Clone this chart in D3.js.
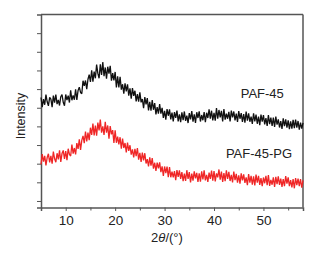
<!DOCTYPE html>
<html>
<head>
<meta charset="utf-8">
<script src="https://cdn.jsdelivr.net/npm/d3@7"></script>
<style>
  body { margin: 0; background: #fff; }
  svg { display: block; font-family: "Liberation Sans", Arial, sans-serif; }
</style>
</head>
<body>
<div id="chart"></div>
<script>
// XRD patterns, intensities (a.u., 0.25 deg steps from 5 to 58)
const angleStart = 5;
const angleStep = 0.25;

const paf45 = [
  5.55, 5.03, 5.46, 5.16, 5.71, 5.32, 5.10, 5.56,
  5.46, 5.03, 5.65, 5.27, 5.71, 5.19, 5.42, 5.12,
  5.59, 5.71, 5.29, 5.11, 5.71, 5.41, 5.65, 5.28,
  5.94, 5.40, 5.66, 5.43, 5.99, 5.42, 5.93, 6.10,
  5.82, 5.75, 6.45, 6.18, 6.46, 5.99, 6.53, 6.77,
  6.38, 7.01, 6.40, 6.94, 6.58, 7.31, 6.84, 6.58,
  7.33, 6.76, 7.45, 6.69, 7.16, 6.56, 7.20, 6.83,
  7.25, 6.45, 6.86, 6.46, 6.92, 6.09, 6.68, 6.09,
  6.66, 5.97, 6.26, 5.76, 6.31, 5.88, 6.26, 5.65,
  6.04, 5.48, 6.05, 5.64, 5.91, 5.34, 5.73, 5.33,
  5.82, 5.29, 5.47, 4.98, 5.57, 5.18, 5.52, 4.86,
  5.32, 4.84, 5.41, 4.89, 5.25, 4.64, 5.03, 4.68,
  5.19, 4.68, 4.99, 4.45, 4.83, 4.36, 4.93, 4.57,
  4.91, 4.38, 4.74, 4.27, 4.76, 4.46, 4.85, 4.27,
  4.65, 4.23, 4.75, 4.34, 4.80, 4.29, 4.58, 4.18,
  4.71, 4.37, 4.82, 4.25, 4.65, 4.19, 4.76, 4.45,
  4.81, 4.26, 4.61, 4.33, 4.77, 4.22, 4.73, 4.45,
  4.92, 4.42, 4.84, 4.32, 4.72, 4.31, 4.98, 4.41,
  4.88, 4.48, 4.83, 4.27, 4.93, 4.36, 4.68, 4.41,
  4.78, 4.26, 4.85, 4.48, 4.80, 4.32, 4.68, 4.24,
  4.82, 4.41, 4.71, 4.24, 4.66, 4.20, 4.79, 4.31,
  4.70, 4.25, 4.52, 4.13, 4.70, 4.27, 4.63, 4.14,
  4.53, 4.06, 4.63, 4.26, 4.60, 4.11, 4.44, 4.03,
  4.61, 4.12, 4.47, 4.02, 4.47, 3.97, 4.52, 4.09,
  4.38, 3.94, 4.28, 3.87, 4.43, 4.01, 4.38, 3.93,
  4.32, 3.85, 4.27, 3.88, 4.35, 3.91, 4.37, 3.93,
  4.29, 3.82, 4.20, 3.88, 4.19
];

const paf45pg = [
  1.96, 2.51, 2.11, 2.42, 1.91, 2.33, 2.53, 2.07,
  2.42, 2.00, 2.65, 2.26, 2.08, 2.56, 2.23, 2.71,
  2.10, 2.54, 2.71, 2.25, 2.68, 2.19, 2.80, 2.50,
  2.41, 3.03, 2.54, 2.84, 2.50, 3.10, 2.79, 3.31,
  2.74, 3.25, 3.49, 3.10, 3.72, 3.19, 3.67, 3.26,
  3.93, 3.54, 4.15, 3.52, 4.04, 3.50, 4.20, 3.79,
  4.36, 3.66, 4.00, 3.54, 4.25, 3.66, 4.05, 3.34,
  4.02, 3.57, 3.80, 3.11, 3.79, 3.12, 3.45, 3.03,
  3.42, 2.80, 3.34, 2.84, 3.11, 2.61, 3.13, 2.69,
  2.99, 2.48, 2.77, 2.33, 2.80, 2.41, 2.84, 2.22,
  2.58, 2.09, 2.59, 2.18, 2.56, 2.01, 2.24, 1.85,
  2.34, 1.89, 2.30, 1.73, 2.05, 1.61, 2.06, 1.75,
  2.07, 1.55, 1.86, 1.34, 1.85, 1.49, 1.84, 1.28,
  1.82, 1.27, 1.58, 1.27, 1.60, 1.11, 1.66, 1.29,
  1.64, 1.19, 1.55, 1.06, 1.47, 1.08, 1.65, 1.19,
  1.55, 0.99, 1.47, 1.09, 1.59, 1.21, 1.51, 1.02,
  1.48, 1.04, 1.59, 1.16, 1.64, 1.10, 1.40, 1.02,
  1.52, 1.19, 1.63, 1.09, 1.60, 1.05, 1.48, 1.27,
  1.69, 1.14, 1.57, 1.02, 1.49, 1.06, 1.64, 1.18,
  1.56, 1.07, 1.40, 0.99, 1.58, 1.12, 1.45, 0.98,
  1.38, 0.93, 1.48, 1.10, 1.43, 0.97, 1.26, 0.85,
  1.44, 0.98, 1.35, 0.87, 1.32, 0.84, 1.41, 0.98,
  1.35, 0.86, 1.23, 0.80, 1.26, 0.95, 1.35, 0.85,
  1.39, 0.81, 1.13, 0.87, 1.27, 0.76, 1.29, 0.90,
  1.32, 0.86, 1.20, 0.76, 1.17, 0.79, 1.33, 0.93,
  1.27, 0.80, 1.12, 0.73, 1.18, 0.68, 1.23, 0.85,
  1.20, 0.80, 1.17, 0.71, 1.11
];

const xMajorTicks = [10, 20, 30, 40, 50];
const xMinorTicks = [15, 25, 35, 45, 55];
const yTicks = [0, 1, 2, 3, 4, 5, 6, 7, 8, 9];

const width = 316;
const height = 255;
const margin = { top: 14.5, right: 13, bottom: 47.5, left: 41 };
const innerW = width - margin.left - margin.right;
const innerH = height - margin.top - margin.bottom;

const svg = d3.select("#chart")
  .append("svg")
  .attr("width", width)
  .attr("height", height);

const g = svg.append("g")
  .attr("transform", `translate(${margin.left},${margin.top})`);

const x = d3.scaleLinear().domain([5, 58]).range([0, innerW]);
const y = d3.scaleLinear().domain([-0.35, 10]).range([innerH, 0]);

const frameColor = "#555";

// axes
const xAxis = g.append("g")
  .attr("transform", `translate(0,${innerH})`)
  .call(d3.axisBottom(x).tickValues(xMajorTicks).tickSize(3.5).tickPadding(4));

g.append("g")
  .attr("transform", `translate(0,${innerH})`)
  .call(d3.axisBottom(x).tickValues(xMinorTicks).tickSize(3).tickFormat(""))
  .call(a => a.select(".domain").remove());

const yAxis = g.append("g")
  .call(d3.axisLeft(y).tickValues(yTicks).tickSize(4).tickFormat(""));

svg.selectAll(".tick line").attr("stroke", frameColor).attr("stroke-width", 1);
svg.selectAll(".domain").attr("stroke", frameColor).attr("stroke-width", 1.5);
xAxis.selectAll("text")
  .attr("font-size", 13.5)
  .attr("fill", "#222")
  .attr("font-family", "Liberation Sans, Arial, sans-serif");

// top and right frame lines
g.append("line")
  .attr("x1", 0).attr("x2", innerW).attr("y1", 0).attr("y2", 0)
  .attr("stroke", frameColor).attr("stroke-width", 1.5);
g.append("line")
  .attr("x1", innerW).attr("x2", innerW).attr("y1", 0).attr("y2", innerH)
  .attr("stroke", frameColor).attr("stroke-width", 1.5);

// patterns
const line = d3.line()
  .x((d, i) => x(angleStart + i * angleStep))
  .y(d => y(d));

g.append("path")
  .datum(paf45)
  .attr("fill", "none")
  .attr("stroke", "#111")
  .attr("stroke-width", 1.3)
  .attr("stroke-linejoin", "bevel")
  .attr("d", line);

g.append("path")
  .datum(paf45pg)
  .attr("fill", "none")
  .attr("stroke", "#ef2626")
  .attr("stroke-width", 1.3)
  .attr("stroke-linejoin", "bevel")
  .attr("d", line);

// labels
g.append("text")
  .attr("x", x(45.4)).attr("y", y(5.5))
  .attr("font-size", 13).attr("fill", "#222")
  .text("PAF-45");

g.append("text")
  .attr("x", x(42.4)).attr("y", y(2.3))
  .attr("font-size", 13).attr("fill", "#222")
  .text("PAF-45-PG");

// axis titles
const xt = svg.append("text")
  .attr("x", 167).attr("y", 242)
  .attr("text-anchor", "middle")
  .attr("font-size", 13).attr("fill", "#222");
xt.append("tspan").text("2");
xt.append("tspan").attr("font-style", "italic").text("θ");
xt.append("tspan").text("/(°)");

svg.append("text")
  .attr("transform", "translate(25,116) rotate(-90)")
  .attr("text-anchor", "middle")
  .attr("font-size", 12.5).attr("fill", "#222")
  .text("Intensity");
</script>
</body>
</html>
